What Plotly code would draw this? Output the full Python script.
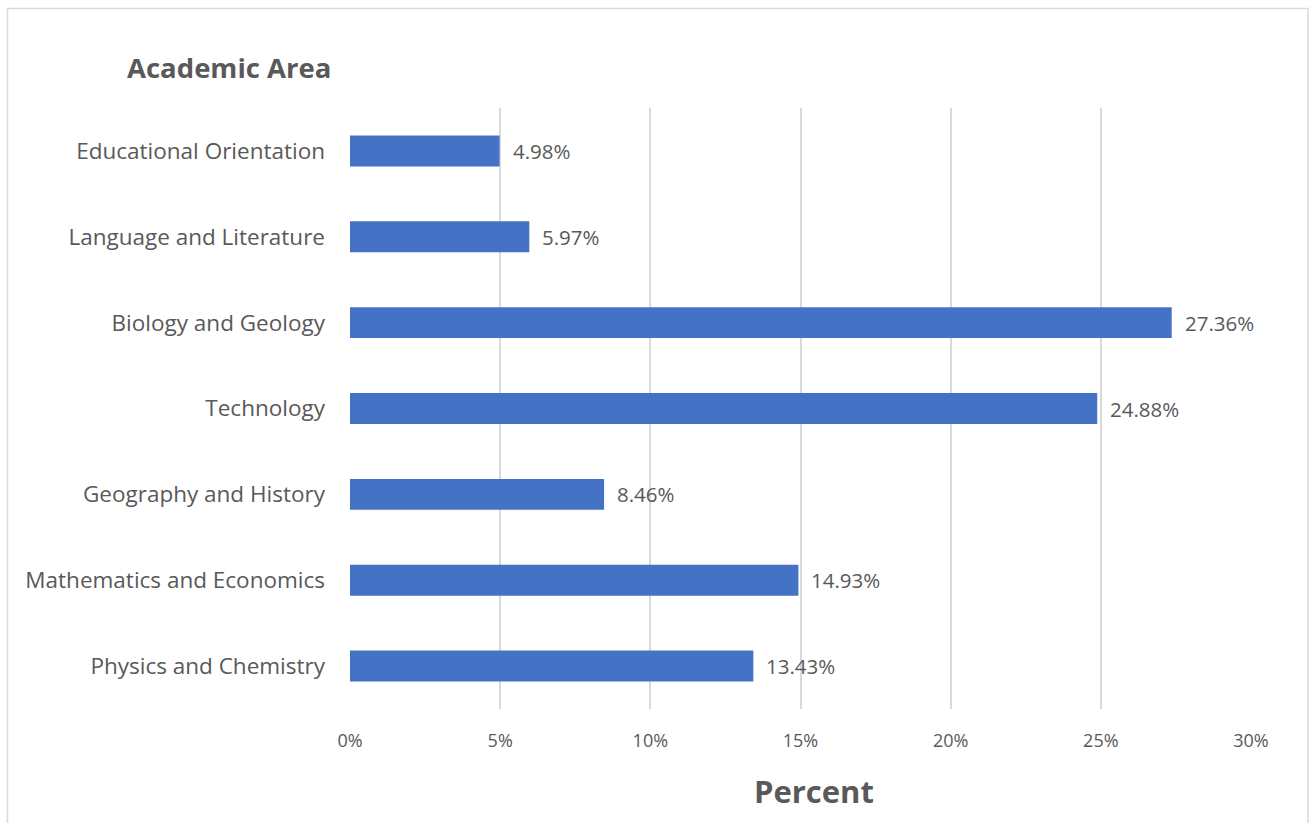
import plotly.graph_objects as go

categories = ["Educational Orientation", "Language and Literature", "Biology and Geology",
              "Technology", "Geography and History", "Mathematics and Economics",
              "Physics and Chemistry"]
percent = [4.98, 5.97, 27.36, 24.88, 8.46, 14.93, 13.43]
x_ticks = [0, 5, 10, 15, 20, 25, 30]
x_tick_labels = ["0%", "5%", "10%", "15%", "20%", "25%", "30%"]

FONT = "Open Sans"
GREY = "#595959"

W, H = 1312, 823
L, R, T, B = 350, 61, 108, 114
pw, ph = W - L - R, H - T - B

def px(x):
    return (x - L) / pw

def py(y):
    return (H - B - y) / ph

fig = go.Figure()
fig.add_trace(go.Bar(
    x=percent, y=categories, orientation="h",
    marker=dict(color="#4472C4", line=dict(width=0)),
    width=0.36, hoverinfo="skip",
))

for v, c in zip(percent, categories):
    fig.add_annotation(x=v, y=c, xref="x", yref="y", text=f"{v:.2f}%",
                       showarrow=False, xanchor="left", yanchor="middle",
                       xshift=11, font=dict(family=FONT, size=20.5, color=GREY))

fig.add_annotation(x=px(125), y=py(67), xref="paper", yref="paper", text="<b>Academic Area</b>",
                   showarrow=False, xanchor="left", yanchor="middle",
                   font=dict(family=FONT, size=27.5, color=GREY))
fig.add_annotation(x=px(814), y=py(791), xref="paper", yref="paper", text="<b>Percent</b>",
                   showarrow=False, xanchor="center", yanchor="middle",
                   font=dict(family=FONT, size=31, color=GREY))

fig.add_shape(type="rect", xref="paper", yref="paper",
              x0=px(7.5), x1=px(1308), y0=py(840), y1=py(8.5),
              line=dict(color="#d9d9d9", width=1.5), fillcolor="rgba(0,0,0,0)", layer="below")

fig.update_layout(
    width=W, height=H,
    margin=dict(l=L, r=R, t=T, b=B),
    paper_bgcolor="white", plot_bgcolor="white",
    showlegend=False,
    font=dict(family=FONT, color=GREY),
)
fig.update_xaxes(range=[0, 30], tickvals=x_ticks, ticktext=x_tick_labels,
                 showgrid=True, gridcolor="#d9d9d9", gridwidth=1.5,
                 zeroline=False, showline=False, ticks="",
                 tickfont=dict(family=FONT, size=18, color=GREY),
                 ticklabelstandoff=19, fixedrange=True)
fig.update_yaxes(categoryorder="array", categoryarray=categories[::-1],
                 showgrid=False, zeroline=False, showline=False, ticks="",
                 tickfont=dict(family=FONT, size=22.5, color=GREY),
                 ticklabelstandoff=24, fixedrange=True)

fig.write_html("out.html", config={"displayModeBar": False})
